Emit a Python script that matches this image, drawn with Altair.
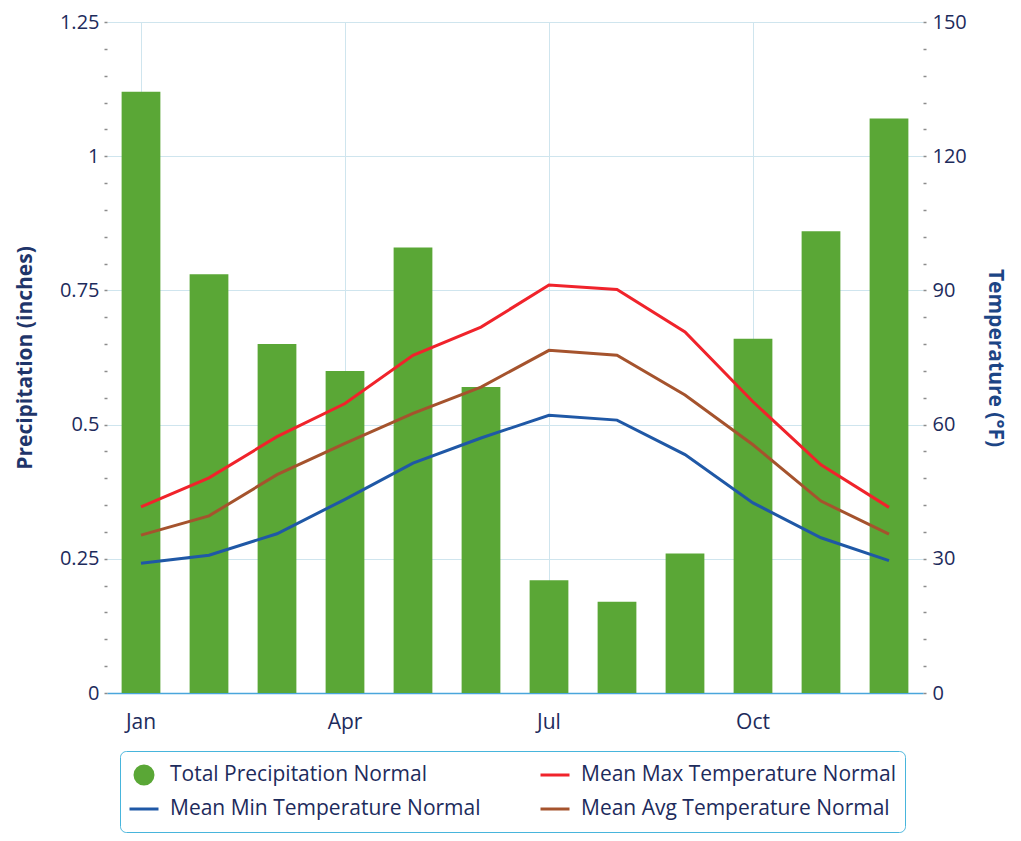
import altair as alt
import pandas as pd

months = ["Jan", "Feb", "Mar", "Apr", "May", "Jun", "Jul", "Aug", "Sep", "Oct", "Nov", "Dec"]
precip = [1.12, 0.78, 0.65, 0.60, 0.83, 0.57, 0.21, 0.17, 0.26, 0.66, 0.86, 1.07]
max_t = [41.6, 48.1, 57.3, 64.7, 75.5, 81.8, 91.2, 90.2, 80.7, 65.1, 51.0, 41.5]
min_t = [29.0, 30.8, 35.6, 43.3, 51.4, 57.0, 62.1, 61.0, 53.3, 42.5, 34.7, 29.6]
avg_t = [35.3, 39.6, 48.8, 55.8, 62.5, 68.4, 76.6, 75.5, 66.6, 55.5, 42.9, 35.5]

series = ["Total Precipitation Normal", "Mean Max Temperature Normal",
          "Mean Min Temperature Normal", "Mean Avg Temperature Normal"]
colors = ["#5aa736", "#f0232b", "#1f58a6", "#a5532d"]

x_labels = ["Jan", "Apr", "Jul", "Oct"]
p_ticks = [round(i * 0.05, 2) for i in range(26)]
t_ticks = [i * 6 for i in range(26)]

FONT = "Open Sans"
TXT = "#1d2b5c"
GRID = "#cfe5ee"
FS = 21
TFS = 20

bar_df = pd.DataFrame({"month": months, "value": precip, "series": series[0]})
line_df = pd.concat([
    pd.DataFrame({"month": months, "value": max_t, "series": series[1]}),
    pd.DataFrame({"month": months, "value": min_t, "series": series[2]}),
    pd.DataFrame({"month": months, "value": avg_t, "series": series[3]}),
])

is_p = "datum.value === 'Total Precipitation Normal'"
circle_path = "M0.62,0A0.62,0.62,0,1,1,-0.62,0A0.62,0.62,0,1,1,0.62,0Z"
line_path = "M0,-0.62M0,0.62M-1,0L1,0"
legend = alt.Legend(
    title=None, orient="none", legendX=13, legendY=729, columns=2,
    direction="horizontal",
    labelFont=FONT, labelFontSize=FS, labelColor=TXT, labelLimit=400,
    strokeColor="#48b5dc", cornerRadius=6, padding=8, columnPadding=53, rowPadding=3,
    symbolType=alt.ExprRef(f"{is_p} ? '{circle_path}' : '{line_path}'"),
    symbolSize=841,
    symbolStrokeWidth=3,
    symbolFillColor=alt.ExprRef("scale('color', datum.value)"),
    symbolStrokeColor=alt.ExprRef("scale('color', datum.value)"),
    symbolOpacity=1,
    labelOffset=10,
)

color = alt.Color("series:N", scale=alt.Scale(domain=series, range=colors), legend=legend)

xenc = alt.X(
    "month:N", sort=months, title=None,
    scale=alt.Scale(paddingInner=0.43, paddingOuter=0.215),
    axis=alt.Axis(values=x_labels, labelAngle=0, labelFont=FONT, labelFontSize=FS,
                  labelColor=TXT, labelPadding=18, ticks=False, domainColor="#4aa6dc",
                  domainWidth=1.5, grid=True, gridColor=GRID, bandPosition=0.5),
)

bars = alt.Chart(bar_df).mark_bar(opacity=1).encode(
    x=xenc,
    y=alt.Y("value:Q", title="Precipitation (inches)",
            scale=alt.Scale(domain=[0, 1.25], nice=False),
            axis=alt.Axis(values=p_ticks, orient="left", domain=False,
                          labelExpr="abs(datum.value*4 - round(datum.value*4)) < 0.001 ? '' + datum.value : ''",
                          labelFont=FONT, labelFontSize=TFS, labelColor=TXT, labelPadding=5,
                          tickSize=3, tickWidth=1.5, tickColor="#8c8c8c",
                          grid=True, gridColor=GRID,
                          gridOpacity={"condition": {"test": "abs(datum.value*4 - round(datum.value*4)) < 0.001", "value": 1}, "value": 0},
                          titleFont=FONT, titleFontSize=FS, titleFontWeight="bold",
                          titleColor="#1f356a", titlePadding=24)),
    color=color,
)

lines = alt.Chart(line_df).mark_line(strokeWidth=3, interpolate="linear").encode(
    x=xenc,
    y=alt.Y("value:Q", title="Temperature (°F)",
            scale=alt.Scale(domain=[0, 150], nice=False),
            axis=alt.Axis(values=t_ticks, orient="right", domain=False,
                          labelExpr="datum.value % 30 === 0 ? '' + datum.value : ''",
                          labelFont=FONT, labelFontSize=TFS, labelColor=TXT, labelPadding=6,
                          tickSize=3, tickWidth=1.5, tickColor="#8c8c8c", grid=False,
                          titleFont=FONT, titleFontSize=FS, titleFontWeight="bold",
                          titleColor="#1c4585", titlePadding=18)),
    color=color,
    detail="series:N",
)

chart = alt.layer(bars, lines).resolve_scale(y="independent").properties(
    width=816, height=671,
    autosize=alt.AutoSizeParams(type="none"),
    padding={"left": 99, "top": 14, "right": 90, "bottom": 140},
).configure_view(stroke=None)

chart.save("out.html", embed_options={"renderer": "svg", "actions": False})
